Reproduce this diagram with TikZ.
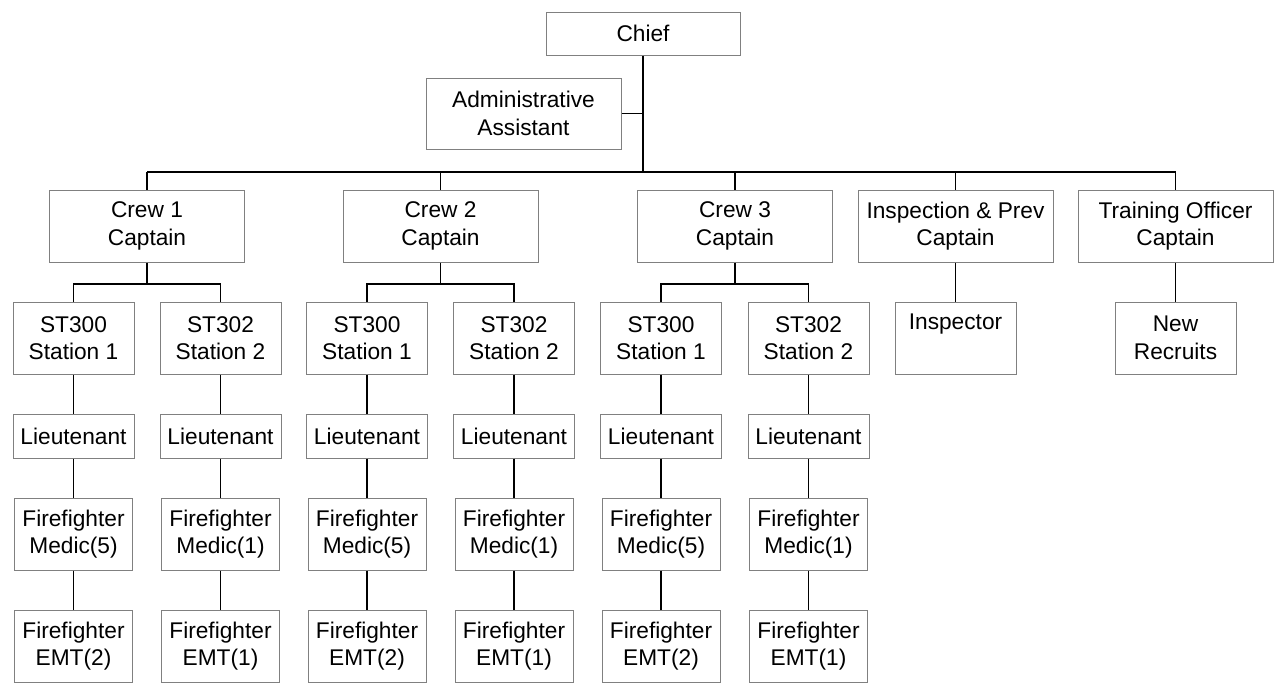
\documentclass[tikz,border=0pt]{standalone}
\usepackage{fontspec}
\setmainfont{Liberation Sans}
\definecolor{bordergray}{RGB}{128,128,128}
\tikzset{
  box/.style={draw=bordergray, line width=1pt, fill=white, inner sep=0pt, align=center,
    font=\fontsize{22.7pt}{27.5pt}\selectfont},
  tall/.style={minimum height=72pt},
  conn/.style={draw=black, line width=1.2pt},
}
\begin{document}
\begin{tikzpicture}[x=1pt,y=-1pt]
\useasboundingbox (0,0) rectangle (1275,688);
\coordinate (bus) at (0,172);
\coordinate (sbus) at (0,284);

\node[box, minimum width=194pt, minimum height=43pt] (chief) at (643,33.5) {Chief};
\node[box, minimum width=195pt, minimum height=71pt] (admin) at (523.5,113.5) {Administrative\\Assistant};

\node[box, tall, minimum width=195pt] (crew1) at (147,226) {Crew 1\\Captain};
\node[box, tall, minimum width=195pt] (crew2) at (440.5,226) {Crew 2\\Captain};
\node[box, tall, minimum width=195pt] (crew3) at (735,226) {Crew 3\\Captain};
\node[box, tall, minimum width=195pt] (insp) at (955.5,226) {Inspection \& Prev\\Captain};
\node[box, tall, minimum width=195pt] (train) at (1175.5,226) {Training Officer\\Captain};

\node[box, tall, minimum width=121pt] (inspector) at (955.5,338) {Inspector\\\phantom{Ag}};
\node[box, tall, minimum width=121pt] (recruits) at (1175.5,338) {New\\Recruits};

\draw[conn] (chief.south) -- (chief.south |- bus);
\draw[conn] (admin.east) -- (admin.east -| chief.south);
\draw[conn] (crew1.north |- bus) -- (train.north |- bus);
\foreach \c in {crew1,crew2,crew3,insp,train}
  \draw[conn] (\c.north) -- (\c.north |- bus);
\draw[conn] (insp.south) -- (inspector.north);
\draw[conn] (train.south) -- (recruits.north);

\foreach \i/\a/\b in {1/73.5/220.5, 2/367/514, 3/661/808.5}{
  \node[box, tall, minimum width=121pt] (s\i a) at (\a,338) {ST300\\Station 1};
  \node[box, tall, minimum width=121pt] (s\i b) at (\b,338) {ST302\\Station 2};
  \node[box, minimum height=44pt, minimum width=121pt] (l\i a) at (\a,436) {Lieutenant};
  \node[box, minimum height=44pt, minimum width=121pt] (l\i b) at (\b,436) {Lieutenant};
  \node[box, tall, minimum width=118pt] (m\i a) at (\a,534) {Firefighter\\Medic(5)};
  \node[box, tall, minimum width=118pt] (m\i b) at (\b,534) {Firefighter\\Medic(1)};
  \node[box, tall, minimum width=118pt] (e\i a) at (\a,646) {Firefighter\\EMT(2)};
  \node[box, tall, minimum width=118pt] (e\i b) at (\b,646) {Firefighter\\EMT(1)};
  \draw[conn] (crew\i.south) -- (crew\i.south |- sbus);
  \draw[conn] (s\i a.north) -- (s\i a.north |- sbus) -- (s\i b.north |- sbus) -- (s\i b.north);
  \draw[conn] (s\i a.south) -- (l\i a.north);
  \draw[conn] (s\i b.south) -- (l\i b.north);
  \draw[conn] (l\i a.south) -- (m\i a.north);
  \draw[conn] (l\i b.south) -- (m\i b.north);
  \draw[conn] (m\i a.south) -- (e\i a.north);
  \draw[conn] (m\i b.south) -- (e\i b.north);
}
\end{tikzpicture}
\end{document}
